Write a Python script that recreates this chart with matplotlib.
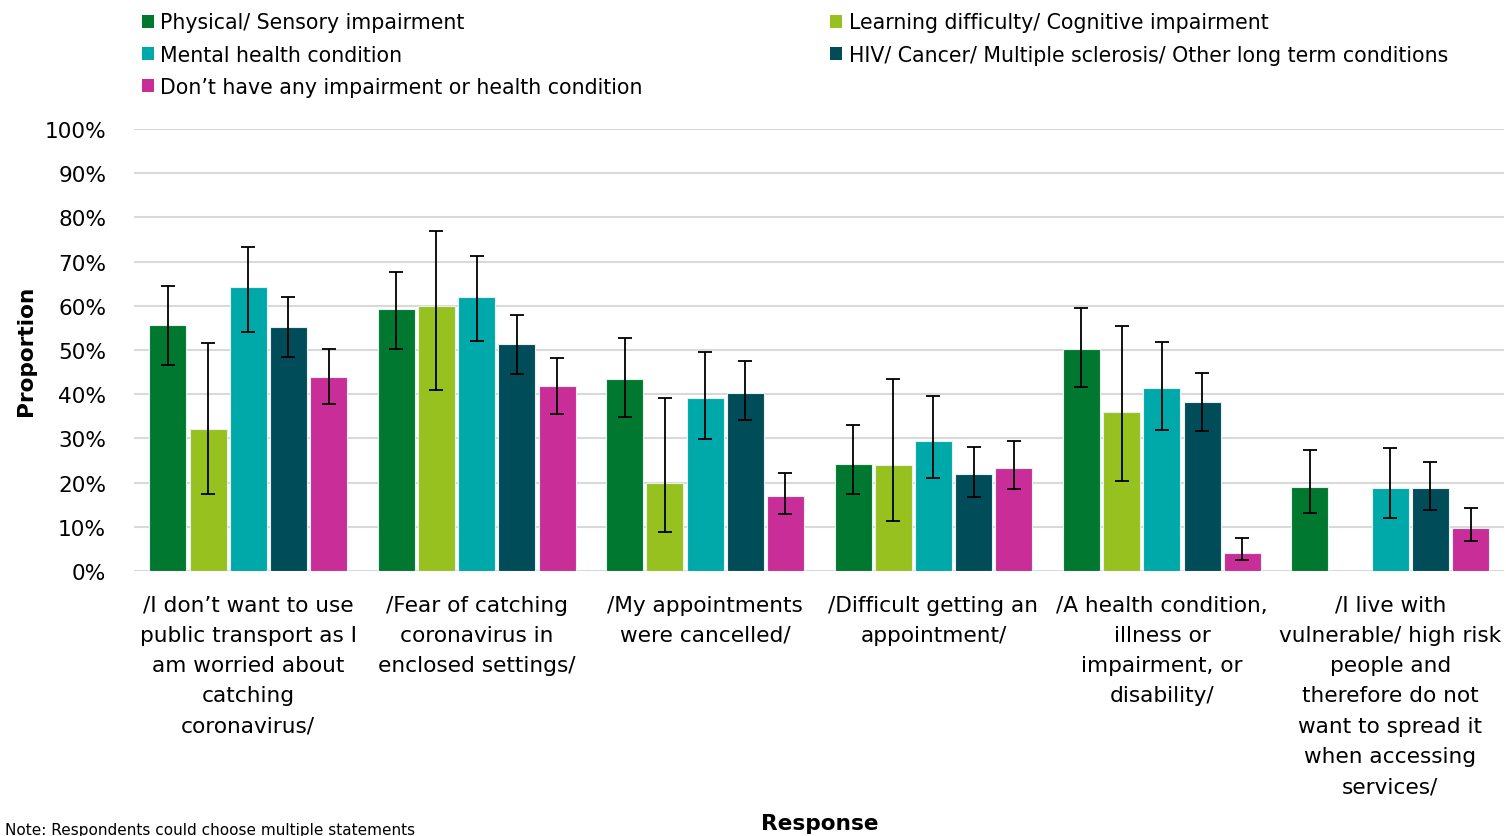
import numpy as np
import matplotlib.pyplot as plt
from matplotlib.patches import Patch

# categories (x axis)
responses = [
    "/I don\u2019t want to use\npublic transport as I\nam worried about\ncatching\ncoronavirus/",
    "/Fear of catching\ncoronavirus in\nenclosed settings/",
    "/My appointments\nwere cancelled/",
    "/Difficult getting an\nappointment/",
    "/A health condition,\nillness or\nimpairment, or\ndisability/",
    "/I live with\nvulnerable/ high risk\npeople and\ntherefore do not\nwant to spread it\nwhen accessing\nservices/",
]

groups = [
    "Physical/ Sensory impairment",
    "Learning difficulty/ Cognitive impairment",
    "Mental health condition",
    "HIV/ Cancer/ Multiple sclerosis/ Other long term conditions",
    "Don\u2019t have any impairment or health condition",
]
colors = ["#00782F", "#96C11F", "#00A9A9", "#004D59", "#C92D97"]

# proportions (%) per group, one value per response
physical = [55.7, 59.2, 43.5, 24.3, 50.3, 19.0]
learning = [32.1, 60.0, 20.0, 24.0, 36.0, np.nan]
mental = [64.2, 62.1, 39.2, 29.3, 41.5, 18.7]
hiv = [55.3, 51.4, 40.3, 21.9, 38.2, 18.7]
none_ = [44.0, 41.8, 16.9, 23.2, 4.0, 9.8]

# confidence interval bounds (%)
physical_lo = [46.6, 50.2, 34.8, 17.4, 41.6, 13.2]
physical_hi = [64.4, 67.6, 52.7, 33.1, 59.4, 27.4]
learning_lo = [17.4, 41.0, 8.9, 11.4, 20.3, np.nan]
learning_hi = [51.6, 76.9, 39.1, 43.4, 55.5, np.nan]
mental_lo = [54.1, 52.0, 29.9, 21.0, 32.0, 12.1]
mental_hi = [73.4, 71.2, 49.5, 39.5, 51.7, 27.8]
hiv_lo = [48.4, 44.5, 34.2, 16.7, 31.6, 13.9]
hiv_hi = [61.9, 58.0, 47.4, 28.1, 44.8, 24.6]
none_lo = [37.8, 35.6, 12.8, 18.6, 2.5, 6.7]
none_hi = [50.2, 48.2, 22.1, 29.3, 7.5, 14.3]

values = [physical, learning, mental, hiv, none_]
lows = [physical_lo, learning_lo, mental_lo, hiv_lo, none_lo]
highs = [physical_hi, learning_hi, mental_hi, hiv_hi, none_hi]

plt.rcParams['font.family'] = ['DejaVu Sans']
fs = 15.6

fig = plt.figure(figsize=(15.06, 8.37), dpi=100)
ax = fig.add_axes([0.089, 0.3166, 0.910, 0.5281])

x = np.arange(len(responses))
slot = 0.176
width = 0.162
for i in range(len(groups)):
    v = np.array(values[i]) / 100
    lo = np.array(lows[i]) / 100
    hi = np.array(highs[i]) / 100
    pos = x + (i - 2) * slot
    ax.bar(pos, v, width, color=colors[i], edgecolor="#E6F0F0", linewidth=0.8, zorder=2)
    err = np.vstack([v - lo, hi - v])
    ax.errorbar(pos, v, yerr=err, fmt="none", ecolor="black", elinewidth=1.3,
                capsize=5, capthick=1.3, zorder=3)

ax.set_xlim(-0.5, len(responses) - 0.5)
ax.set_ylim(0, 1)
ax.set_yticks(np.arange(0, 1.01, 0.1))
ax.set_yticklabels([f"{int(t)}%" for t in np.arange(0, 101, 10)], fontsize=fs)
ax.yaxis.grid(True, color="#D9D9D9", linewidth=1.5, zorder=0)
ax.set_axisbelow(True)
for s in ax.spines.values():
    s.set_visible(False)
ax.tick_params(axis="y", length=0, pad=20)
ax.tick_params(axis="x", length=0, pad=17)
ax.set_xticks(x)
ax.set_xticklabels(responses, fontsize=fs, linespacing=1.64)

ax.set_ylabel("Proportion", fontsize=fs, fontweight="bold", labelpad=6)
fig.text(0.544, 0.004, "Response", fontsize=fs, fontweight="bold", ha="center", va="bottom")
fig.text(0.003, -0.001, "Note: Respondents could choose multiple statements", fontsize=11,
         ha="left", va="bottom")

# legend: row-major order across two columns
order = [0, 2, 4, 1, 3]
handles = [Patch(facecolor=colors[i]) for i in order]
labels = [groups[i] for i in order]
fig.legend(handles, labels, ncol=2, loc="upper left", bbox_to_anchor=(0.082, 1.006),
           frameon=False, fontsize=14.8, handlelength=0.6, handleheight=0.6,
           handletextpad=0.3, columnspacing=9.1, labelspacing=0.6)

fig.savefig("out.png", dpi=100)
